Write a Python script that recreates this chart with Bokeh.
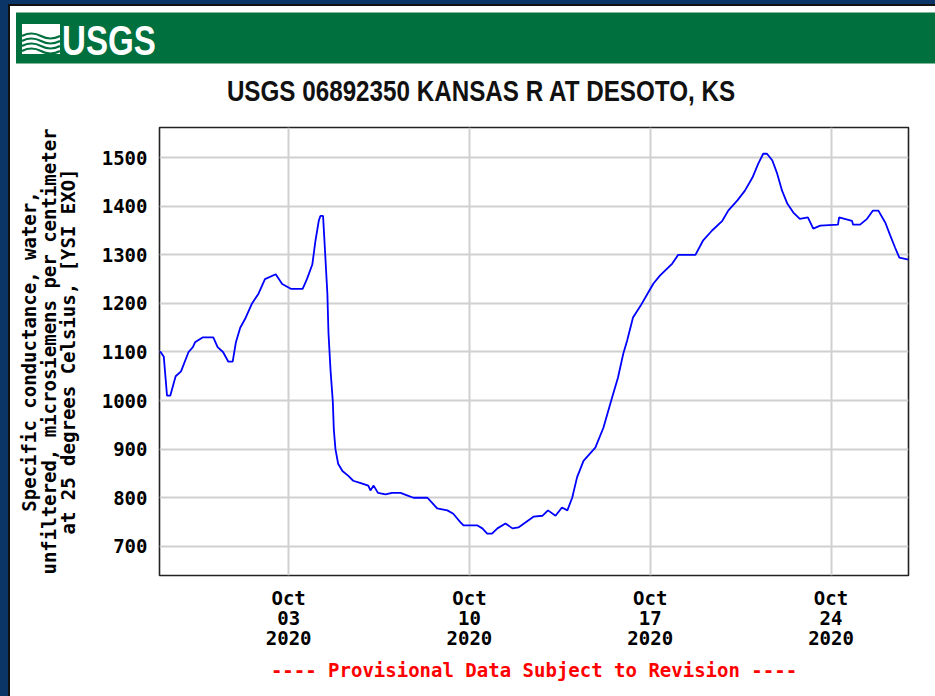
import pandas as pd
from bokeh.plotting import figure
from bokeh.models import Div, Title, FixedTicker, DatetimeTickFormatter, Range1d
from bokeh.layouts import column, row
from bokeh.embed import file_html
from bokeh.resources import INLINE

# ---------------- data ----------------
times = [
    "2020-09-28 00:00", "2020-09-28 01:00", "2020-09-28 04:00", "2020-09-28 07:00", "2020-09-28 10:00",
    "2020-09-28 15:00", "2020-09-28 20:00", "2020-09-29 03:00", "2020-09-29 07:00", "2020-09-29 09:00",
    "2020-09-29 16:00", "2020-09-30 02:00", "2020-09-30 06:00", "2020-09-30 11:00", "2020-09-30 16:00",
    "2020-09-30 20:00", "2020-09-30 23:00", "2020-10-01 03:00", "2020-10-01 08:00", "2020-10-01 14:00",
    "2020-10-01 20:00", "2020-10-02 02:00", "2020-10-02 12:00", "2020-10-02 18:00", "2020-10-03 02:00",
    "2020-10-03 13:00", "2020-10-03 17:00", "2020-10-03 22:00", "2020-10-04 01:00", "2020-10-04 04:00",
    "2020-10-04 05:30", "2020-10-04 08:00", "2020-10-04 09:00", "2020-10-04 10:00", "2020-10-04 12:00",
    "2020-10-04 13:00", "2020-10-04 15:00", "2020-10-04 17:00", "2020-10-04 18:00", "2020-10-04 19:30",
    "2020-10-04 22:00", "2020-10-05 02:00", "2020-10-05 07:30", "2020-10-05 12:00", "2020-10-05 19:00",
    "2020-10-06 02:00", "2020-10-06 04:00", "2020-10-06 07:00", "2020-10-06 11:00", "2020-10-06 18:00",
    "2020-10-07 00:00", "2020-10-07 08:00", "2020-10-07 14:00", "2020-10-07 20:00", "2020-10-08 09:00",
    "2020-10-08 14:00", "2020-10-08 18:00", "2020-10-09 03:30", "2020-10-09 09:00", "2020-10-09 15:30",
    "2020-10-09 18:30", "2020-10-10 07:30", "2020-10-10 12:00", "2020-10-10 16:30", "2020-10-10 21:00",
    "2020-10-11 02:00", "2020-10-11 09:30", "2020-10-11 16:00", "2020-10-11 21:30", "2020-10-12 04:00",
    "2020-10-12 11:30", "2020-10-12 20:00", "2020-10-13 01:00", "2020-10-13 08:00", "2020-10-13 14:00",
    "2020-10-13 19:00", "2020-10-13 23:30", "2020-10-14 04:00", "2020-10-14 10:00", "2020-10-14 16:00",
    "2020-10-14 21:00", "2020-10-15 04:30", "2020-10-15 12:30", "2020-10-15 18:00", "2020-10-15 23:00",
    "2020-10-16 02:30", "2020-10-16 08:00", "2020-10-16 15:00", "2020-10-16 22:00", "2020-10-17 03:00",
    "2020-10-17 09:00", "2020-10-17 20:30", "2020-10-18 02:00", "2020-10-18 18:00", "2020-10-19 01:00",
    "2020-10-19 09:30", "2020-10-19 19:00", "2020-10-20 00:30", "2020-10-20 09:00", "2020-10-20 16:00",
    "2020-10-20 23:00", "2020-10-21 04:30", "2020-10-21 09:00", "2020-10-21 12:30", "2020-10-21 17:30",
    "2020-10-21 22:00", "2020-10-22 02:30", "2020-10-22 07:30", "2020-10-22 13:00", "2020-10-22 19:00",
    "2020-10-23 02:30", "2020-10-23 07:30", "2020-10-23 14:00", "2020-10-24 06:30", "2020-10-24 07:30",
    "2020-10-24 19:30", "2020-10-24 20:30", "2020-10-25 03:00", "2020-10-25 09:30", "2020-10-25 15:00",
    "2020-10-25 20:00", "2020-10-26 02:30", "2020-10-26 07:00", "2020-10-26 11:30", "2020-10-26 15:30",
    "2020-10-27 00:00",
]
conductance = [
    1100, 1100, 1090, 1010, 1010,
    1050, 1060, 1100, 1110, 1120,
    1130, 1130, 1110, 1100, 1080,
    1080, 1120, 1150, 1170, 1200,
    1220, 1250, 1260, 1240, 1230,
    1230, 1250, 1280, 1330, 1370,
    1380, 1380, 1340, 1300, 1220,
    1140, 1060, 1000, 940, 900,
    870, 855, 845, 835, 830,
    825, 815, 825, 810, 807,
    810, 810, 805, 800, 800,
    788, 778, 774, 767, 750,
    743, 743, 737, 726, 726,
    737, 747, 737, 739, 749,
    761, 763, 774, 763, 780,
    774, 800, 842, 876, 891,
    903, 944, 1006, 1047, 1097,
    1123, 1171, 1195, 1222, 1241,
    1257, 1282, 1300, 1300, 1329,
    1350, 1370, 1391, 1412, 1432,
    1459, 1488, 1508, 1508, 1494,
    1467, 1432, 1405, 1387, 1374,
    1377, 1354, 1360, 1362, 1377,
    1370, 1362, 1362, 1374, 1391,
    1391, 1366, 1340, 1315, 1294,
    1290,
]
x_start = "2020-09-28 00:00"
x_end = "2020-10-27 00:00"
y_min, y_max = 640, 1562
x_tick_dates = ["2020-10-03", "2020-10-10", "2020-10-17", "2020-10-24"]
y_ticks = [700, 800, 900, 1000, 1100, 1200, 1300, 1400, 1500]

title_text = "USGS 06892350 KANSAS R AT DESOTO, KS"
ylabel_lines = [
    "Specific conductance, water,",
    "unfiltered, microsiemens per centimeter",
    "at 25 degrees Celsius, [YSI EXO]",
]
footnote = "---- Provisional Data Subject to Revision ----"

# ---------------- colours ----------------
NAVY = "#0a3566"
EDGE = "#111111"
GREEN = "#00703f"
PAGE_W, PAGE_H = 935, 696
HEAD_H = 108

# ---------------- header ----------------
waves = "".join(
    f'<path d="M0 {y} Q9.5 {y-5} 19 {y} T38 {y}" stroke="{GREEN}" stroke-width="2.2" fill="none"/>'
    for y in (12, 17, 22, 27)
)
logo_svg = (
    '<svg style="position:absolute;left:22px;top:24px" width="38" height="30" '
    'xmlns="http://www.w3.org/2000/svg"><rect width="38" height="30" fill="white"/>'
    + waves + "</svg>"
)
header_html = f"""
<div style="position:relative;width:{PAGE_W}px;height:{HEAD_H}px;background:#ffffff;overflow:hidden;">
  <div style="position:absolute;left:0;top:0;width:{PAGE_W}px;height:4px;background:{NAVY};"></div>
  <div style="position:absolute;left:0;top:0;width:8px;height:{HEAD_H}px;background:{NAVY};"></div>
  <div style="position:absolute;left:8px;top:4px;width:{PAGE_W-8}px;height:2px;background:{EDGE};"></div>
  <div style="position:absolute;left:8px;top:4px;width:2px;height:{HEAD_H-4}px;background:{EDGE};"></div>
  <div style="position:absolute;left:16px;top:12px;width:{PAGE_W-16}px;height:52px;background:{GREEN};
       border-top:1px solid #7fb89a;border-bottom:1px solid #7fb89a;box-sizing:border-box;"></div>
  {logo_svg}
  <div style="position:absolute;left:62px;top:19px;font-family:'Liberation Sans',sans-serif;
       font-weight:bold;font-size:43px;line-height:43px;color:#ffffff;white-space:nowrap;
       transform:scaleX(0.77);transform-origin:left center;">USGS</div>
  <div style="position:absolute;left:481px;top:77px;white-space:nowrap;
       font-family:'Liberation Sans',sans-serif;font-weight:bold;
       font-size:29px;line-height:29px;color:#111111;
       transform:translateX(-50%) scaleX(0.835);">{title_text}</div>
</div>
"""
header = Div(text=header_html, width=PAGE_W, height=HEAD_H, margin=(0, 0, 0, 0))

PLOT_H = PAGE_H - HEAD_H
side = Div(text="", width=10, height=PLOT_H, margin=(0, 0, 0, 0),
           styles={"background-color": NAVY, "border-right": f"2px solid {EDGE}",
                   "box-sizing": "border-box"})

# ---------------- figure ----------------
t = pd.to_datetime(times)
p = figure(
    width=PAGE_W - 10, height=PLOT_H,
    x_axis_type="datetime",
    x_range=Range1d(pd.Timestamp(x_start), pd.Timestamp(x_end)),
    y_range=Range1d(y_min, y_max),
    output_backend="svg", toolbar_location=None,
    min_border_left=149, min_border_right=27, min_border_top=19, min_border_bottom=121,
    background_fill_color="white", border_fill_color="white",
    margin=(0, 0, 0, 0),
)
p.line(t, conductance, line_color="#0000ff", line_width=1.8)

tick_ms = [pd.Timestamp(d).value // 10**6 for d in x_tick_dates]
p.xaxis.ticker = FixedTicker(ticks=tick_ms)
fmt = "%b\n%d\n%Y"
p.xaxis.formatter = DatetimeTickFormatter(
    days=fmt, months=fmt, hours=fmt, years=fmt, minutes=fmt, hourmin=fmt)
p.yaxis.ticker = FixedTicker(ticks=y_ticks)

mono = "DejaVu Sans Mono"
for ax in (p.xaxis[0], p.yaxis[0]):
    ax.axis_line_color = None
    ax.major_tick_line_color = None
    ax.minor_tick_line_color = None
    ax.major_tick_out = 0
    ax.major_tick_in = 0
    ax.major_label_text_font = mono
    ax.major_label_text_font_style = "bold"
    ax.major_label_text_font_size = "19px"
    ax.major_label_text_color = "#000000"
p.yaxis.major_label_standoff = 12
p.xaxis.major_label_standoff = 11
p.xaxis.major_label_text_line_height = 0.93

# three-line y-axis label
p.yaxis.axis_label = "\n".join(ylabel_lines)
p.yaxis.axis_label_text_font = mono
p.yaxis.axis_label_text_font_style = "bold"
p.yaxis.axis_label_text_font_size = "19px"
p.yaxis.axis_label_text_color = "#000000"
p.yaxis.axis_label_text_line_height = 0.87
p.yaxis.axis_label_standoff = 20

p.grid.grid_line_color = "#d0d0d0"
p.grid.grid_line_width = 2
p.outline_line_color = "#222222"
p.outline_line_width = 1.6

p.add_layout(Title(text=footnote, align="center", text_font=mono, text_font_style="bold",
                   text_font_size="19px", text_color="#ff0000", standoff=9), "below")

layout = column(header, row(side, p, margin=(0, 0, 0, 0)), margin=(0, 0, 0, 0))
open("out.html", "w").write(file_html(layout, INLINE))
